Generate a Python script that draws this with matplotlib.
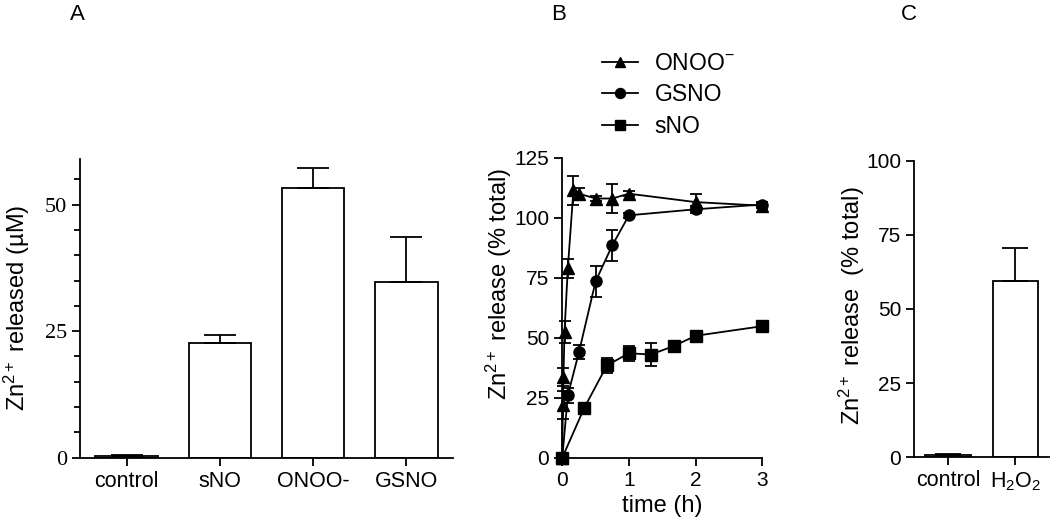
import matplotlib
matplotlib.use("Agg")
import matplotlib.pyplot as plt
import numpy as np
from matplotlib.lines import Line2D
from matplotlib.ticker import MultipleLocator

plt.rcParams["font.family"] = ["Liberation Sans", "DejaVu Sans"]
plt.rcParams["mathtext.fontset"] = "custom"
plt.rcParams["mathtext.rm"] = "Liberation Sans"
plt.rcParams["mathtext.it"] = "Liberation Sans:italic"
plt.rcParams["mathtext.bf"] = "Liberation Sans:bold"

# panel A: Zn2+ released (uM)
a_labels = ["control", "sNO", "ONOO-", "GSNO"]
a_values = [0.3, 22.7, 53.2, 34.7]
a_err = [0.3, 1.5, 4.0, 8.8]

# panel B: time course (% total)
t_onoo = [0, 0.008, 0.017, 0.033, 0.083, 0.167, 0.25, 0.5, 0.75, 1, 2, 3]
y_onoo = [0, 22, 33.5, 52.5, 79, 111.5, 110, 108, 108, 110, 106.5, 105]
e_onoo = [0, 6, 3.7, 4.5, 4, 6, 2.5, 1, 6, 1, 3.5, 1]

t_gsno = [0, 0.083, 0.25, 0.5, 0.75, 1, 2, 3]
y_gsno = [0, 26, 44, 73.5, 88.5, 101, 103.5, 105.5]
e_gsno = [0, 3, 3, 6.5, 6.5, 1, 1.5, 1]

t_sno = [0, 0.33, 0.67, 1, 1.33, 1.67, 2, 3]
y_sno = [0, 20.8, 38.5, 43.5, 43, 46.5, 50.8, 54.8]
e_sno = [0, 1, 3, 3, 4.6, 1, 1, 1]

# panel C: H2O2
c_labels = ["control", "H$_2$O$_2$"]
c_values = [0.7, 59.3]
c_err = [0.3, 11.3]

W, H = 1050, 525
LW = 1.3


def px_axes(fig, left, top, right, bottom):
    return fig.add_axes([left / W, 1 - bottom / H, (right - left) / W, (bottom - top) / H])


def style(ax):
    for s in ("top", "right"):
        ax.spines[s].set_visible(False)
    for s in ("left", "bottom"):
        ax.spines[s].set_linewidth(LW)
    ax.tick_params(direction="out", length=6, width=LW, labelsize=15)


def bars(ax, labels, values, err, capsize):
    x = np.arange(len(labels))
    ax.bar(x, values, width=0.67, color="white", edgecolor="black", linewidth=LW, zorder=2)
    ax.errorbar(x, values, yerr=[np.zeros(len(err)), err], fmt="none", ecolor="black",
                elinewidth=LW, capsize=capsize, capthick=LW, zorder=3)
    ax.set_xticks(x)
    ax.set_xticklabels(labels)
    ax.set_xlim(-0.5, len(labels) - 0.5)


fig = plt.figure(figsize=(W / 100, H / 100), dpi=100)

# A
ax_a = px_axes(fig, 80, 159, 453, 457.7)
style(ax_a)
bars(ax_a, a_labels, a_values, a_err, 11.5)
ax_a.set_ylim(0, 59)
ax_a.yaxis.set_major_locator(MultipleLocator(25))
ax_a.yaxis.set_minor_locator(MultipleLocator(5))
ax_a.tick_params(axis="y", which="minor", length=4, width=LW)
ax_a.tick_params(axis="x", labelsize=15.5)
for lab in ax_a.get_yticklabels():
    lab.set_fontfamily("Liberation Serif")
    lab.set_fontsize(16)
ax_a.set_ylabel("Zn$^{2+}$ released (\u00b5M)", fontsize=17)
ax_a.yaxis.set_label_coords(-(80 - 32) / (453 - 80), 0.5)

# B
ax_b = px_axes(fig, 562.3, 157.7, 762.3, 457.7)
style(ax_b)
series = [
    (t_onoo, y_onoo, e_onoo, "^", "ONOO$^{-}$", 8.5),
    (t_gsno, y_gsno, e_gsno, "o", "GSNO", 8),
    (t_sno, y_sno, e_sno, "s", "sNO", 8.5),
]
handles = []
for t, y, e, m, name, ms in series:
    h = ax_b.errorbar(t, y, yerr=e, fmt="-" + m, color="black", ms=ms, lw=LW,
                      elinewidth=LW, capsize=4.5, capthick=LW, clip_on=False, zorder=3)
    for art in h.lines[1] + h.lines[2]:
        art.set_clip_on(False)
    handles.append(Line2D([], [], color="black", marker=m, ms=ms * 0.9, lw=LW, label=name))
ax_b.set_xlim(0, 3)
ax_b.set_ylim(0, 125)
ax_b.set_xticks([0, 1, 2, 3])
ax_b.yaxis.set_major_locator(MultipleLocator(25))
ax_b.set_xlabel("time (h)", fontsize=17)
ax_b.set_ylabel("Zn$^{2+}$ release (% total)", fontsize=17)
ax_b.yaxis.set_label_coords(-(562.3 - 514) / 200, (457.7 - 284) / 300)
fig.legend(handles=handles, loc="upper left", bbox_to_anchor=(601.7 / W, 1 - 52 / H),
           frameon=False, fontsize=16.5, handlelength=1.6, handletextpad=0.7,
           labelspacing=0.37, borderpad=0, borderaxespad=0)

# C
ax_c = px_axes(fig, 914.3, 160.7, 1049, 457.3)
style(ax_c)
bars(ax_c, c_labels, c_values, c_err, 9.5)
ax_c.set_ylim(0, 100)
ax_c.yaxis.set_major_locator(MultipleLocator(25))
ax_c.tick_params(axis="x", labelsize=15.5)
ax_c.set_ylabel("Zn$^{2+}$ release  (% total)", fontsize=17)
ax_c.yaxis.set_label_coords(-(914.3 - 867) / (1049 - 914.3), (457.3 - 306) / (457.3 - 160.7))

for letter, xp, yp in [("A", 77, 15), ("B", 559, 15), ("C", 909, 14)]:
    fig.text(xp / W, 1 - yp / H, letter, ha="center", va="center", fontsize=16)

fig.savefig("out.png", dpi=100)
